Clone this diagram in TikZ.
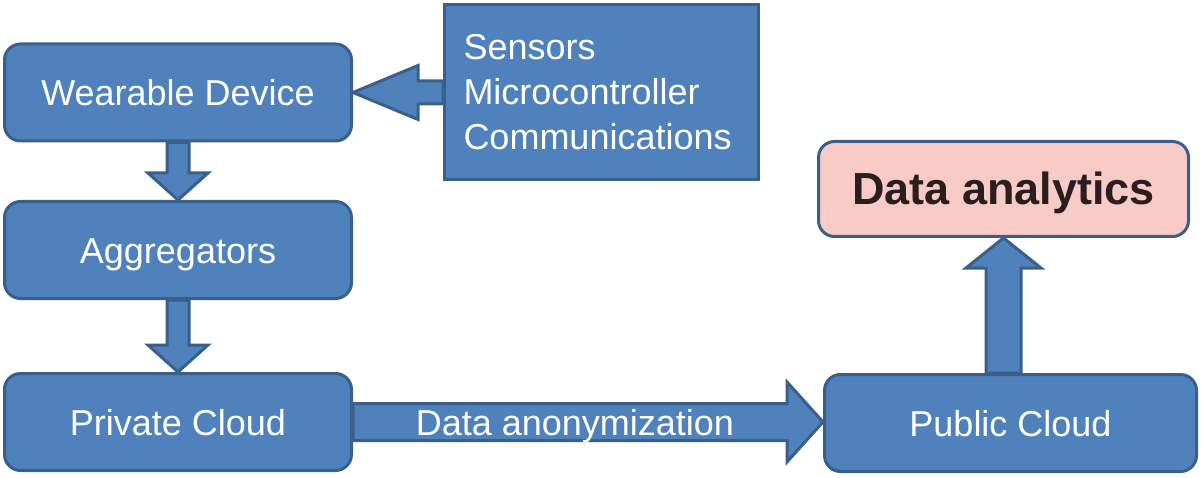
\documentclass[tikz,border=0pt]{standalone}
\usepackage{fontspec}
\setmainfont{Liberation Sans}
\usetikzlibrary{calc}
\definecolor{boxblue}{HTML}{4F81BD}
\definecolor{edgeblue}{HTML}{3A5F8B}
\definecolor{softpink}{HTML}{F8CBC7}
\definecolor{darktext}{HTML}{2A1E1E}
\begin{document}
\begin{tikzpicture}[x=1pt, y=1pt,
		blue/.style = {draw=edgeblue, line width=3pt, fill=boxblue, text=white, font=\fontsize{36}{45}\selectfont},
		main/.style = {blue, rounded corners=16pt, minimum width=347pt, minimum height=97pt, text height=26pt, text depth=0pt},
		fat/.style = {draw=edgeblue, line width=3pt, fill=boxblue, line join=miter}]
		\useasboundingbox (0,0) rectangle (1201,477);
		\node[main] (wd) at (178,384.5) {Wearable Device};
		\node[blue, text width=276pt, inner xsep=19pt, minimum height=175pt, align=left] (sens) at (601.5,385) {Sensors\\Microcontroller\\Communications};
		\node[main] (ag) at (178,227) {Aggregators};
		\node[main] (pc) at (178,55) {Private Cloud};
		\node[main, minimum width=372pt] (pub) at (1010.5,54) {Public Cloud};
		\node[main, fill=softpink, text=darktext, font=\bfseries\fontsize{45}{50}\selectfont, minimum width=370pt, minimum height=95pt, text height=32pt] (da) at (1003.5,288) {Data analytics};
		% block arrows
		\draw[fat] (wd.east) -- ++(65,27) -- ++(0,-15.5) -- ($(sens.west |- wd.east)+(0,11.5)$) -- ($(sens.west |- wd.east)+(0,-11.5)$) -- ($(wd.east)+(65,-11.5)$) -- ++(0,-15.5) -- cycle;
		\draw[fat] ($(wd.south)+(-11,0)$) -- ($(ag.north)+(-11,27)$) -- ++(-19,0) -- (ag.north) -- ++(30,27) -- ++(-19,0) -- ($(wd.south)+(11,0)$) -- cycle;
		\draw[fat] ($(ag.south)+(-11,0)$) -- ($(pc.north)+(-11,27)$) -- ++(-19,0) -- (pc.north) -- ++(30,27) -- ++(-19,0) -- ($(ag.south)+(11,0)$) -- cycle;
		\draw[fat] ($(pc.east)+(0,18.5)$) -- ($(pub.west |- pc.east)+(-36,18.5)$) -- ++(0,21.5) -- (pub.west |- pc.east) -- ++(-36,-40) -- ++(0,21.5) -- ($(pc.east)+(0,-18.5)$) -- cycle;
		\draw[fat] ($(da.south |- pub.north)+(-17.5,0)$) -- ($(da.south)+(-17.5,-30)$) -- ++(-20,0) -- (da.south) -- ++(37.5,-30) -- ++(-20,0) -- ($(da.south |- pub.north)+(17.5,0)$) -- cycle;
		\node[text=white, font=\fontsize{36}{45}\selectfont, text height=26pt, text depth=0pt] (anon) at ($(pc.east)+(222,0)$) {Data anonymization};
	\end{tikzpicture}
\end{document}
